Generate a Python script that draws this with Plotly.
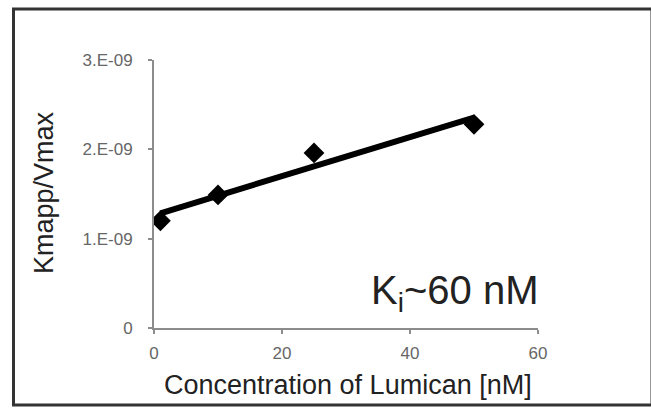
import numpy as np
import plotly.graph_objects as go

# Lineweaver-Burk style secondary plot: slope term vs inhibitor concentration
conc_nM = [1, 10, 25, 50]
kmapp_vmax = [1.20e-9, 1.49e-9, 1.96e-9, 2.28e-9]

x_tick_vals = [0, 20, 40, 60]
y_tick_vals = [0, 1e-9, 2e-9, 3e-9]
y_tick_text = ["0", "1.E-09", "2.E-09", "3.E-09"]

# linear trendline through the measured points
slope, intercept = np.polyfit(conc_nM, kmapp_vmax, 1)
fit_x = [min(conc_nM), max(conc_nM)]
fit_y = [slope * x + intercept for x in fit_x]

W, H = 651, 408
ML, MR, MT, MB = 154, 113, 60, 80
PW, PH = W - ML - MR, H - MT - MB


def px(x):
    return (x - ML) / PW


def py(y):
    return (H - MB - y) / PH


fig = go.Figure()
fig.add_trace(go.Scatter(
    x=fit_x, y=fit_y, mode="lines",
    line=dict(color="black", width=6),
    showlegend=False, hoverinfo="skip",
))
fig.add_trace(go.Scatter(
    x=conc_nM, y=kmapp_vmax, mode="markers",
    marker=dict(symbol="diamond", size=16, color="black"),
    showlegend=False,
))

axis_grey = "#8c8c8c"
tick_font = dict(family="Liberation Sans, Arial, sans-serif", size=17, color="#666666")

fig.update_xaxes(
    range=[0, 60], tickvals=x_tick_vals,
    showline=True, linecolor=axis_grey, linewidth=2,
    ticks="outside", ticklen=4, tickwidth=2, tickcolor=axis_grey,
    showgrid=False, zeroline=False, tickfont=tick_font,
    ticklabelstandoff=5,
)
fig.update_yaxes(
    range=[0, 3e-9], tickvals=y_tick_vals, ticktext=y_tick_text,
    showline=True, linecolor=axis_grey, linewidth=2,
    ticks="outside", ticklen=4, tickwidth=2, tickcolor=axis_grey,
    showgrid=False, zeroline=False, tickfont=tick_font,
    ticklabelstandoff=12,
)

title_font = dict(family="Liberation Sans, Arial, sans-serif", size=27, color="#222222")

fig.update_layout(
    width=W, height=H,
    margin=dict(l=ML, r=MR, t=MT, b=MB),
    paper_bgcolor="white", plot_bgcolor="white",
    annotations=[
        dict(text="Concentration of Lumican [nM]", xref="paper", yref="paper",
             x=px(348), y=py(385), xanchor="center", yanchor="middle",
             showarrow=False, font=title_font),
        dict(text="Kmapp/Vmax", xref="paper", yref="paper",
             x=px(44), y=py(193), xanchor="center", yanchor="middle",
             textangle=-90, showarrow=False, font=title_font),
        dict(text="K<sub>i</sub>~60 nM", xref="paper", yref="paper",
             x=px(540), y=py(293), xanchor="right", yanchor="middle",
             showarrow=False,
             font=dict(family="Liberation Sans, Arial, sans-serif", size=40, color="#222222")),
    ],
    shapes=[
        dict(type="rect", xref="paper", yref="paper",
             x0=px(13.5), x1=px(652), y0=py(405), y1=py(9),
             line=dict(color="#333333", width=3), fillcolor="rgba(0,0,0,0)",
             layer="above"),
    ],
)

fig.write_html("out.html")
